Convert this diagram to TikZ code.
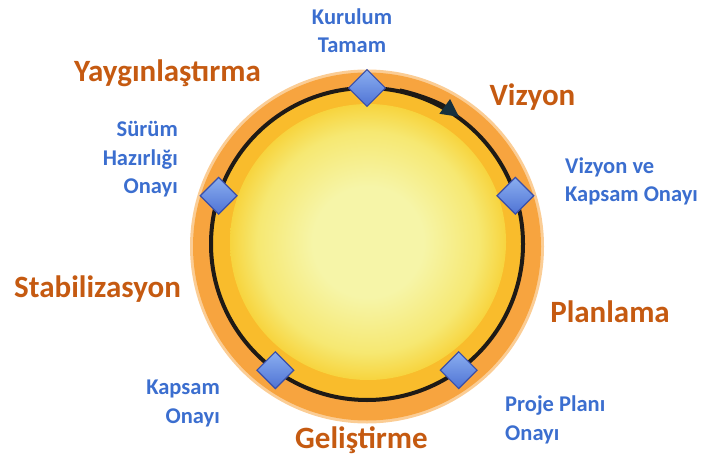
\documentclass[tikz,border=0pt]{standalone}
\usepackage{fontspec}
\setmainfont{Carlito}
\usetikzlibrary{arrows.meta}
\definecolor{orangetxt}{HTML}{C55A11}
\definecolor{bluetxt}{HTML}{3B6ECF}
\definecolor{ringorange}{HTML}{F7A43F}
\definecolor{ringgold}{HTML}{F9BC2C}
\definecolor{sunA}{HTML}{F6F5A8}
\definecolor{sunB}{HTML}{F6E872}
\definecolor{sunC}{HTML}{F7D43E}
\definecolor{diaA}{HTML}{8AAEF0}
\definecolor{diaB}{HTML}{4F73D4}
\definecolor{diaedge}{HTML}{3A4FA8}
\definecolor{ringblack}{HTML}{1E1A16}
\definecolor{tipcol}{HTML}{17303E}
\pgfdeclareradialshading{sunshade}{\pgfpoint{0bp}{0bp}}{color(0bp)=(sunA); color(10bp)=(sunA); color(20bp)=(sunB); color(25bp)=(sunC); color(50bp)=(sunC)}
\begin{document}
\begin{tikzpicture}[x=1pt,y=1pt,
  phase/.style={font=\fontsize{31}{36}\selectfont\bfseries, text=orangetxt, inner sep=0pt},
  gate/.style={font=\fontsize{22.5}{28.5}\selectfont\bfseries, text=bluetxt, inner sep=0pt},
  milestone/.style={shape=rectangle, draw=diaedge, line width=1.2pt, top color=diaA, bottom color=diaB, minimum size=26pt, inner sep=0pt, rotate=45},
  ringline/.style={ringblack, line width=4pt}
]
\useasboundingbox (0,0) rectangle (708,458);
\coordinate (c) at (367,214);
\coordinate (o) at (367,211.5);
\coordinate (s) at (368,216);
\fill[ringorange!55!white] (o) circle[radius=177pt];
\fill[ringorange] (o) circle[radius=174pt];
\fill[ringgold] (c) circle[radius=156pt];
\shade[shading=sunshade] (s) circle[radius=138pt];
\draw[ringline] (c) circle[radius=156pt];
\draw[ringline, -{Triangle[length=18pt,width=17pt,color=tipcol]}] ([shift={(78:157pt)}]c) arc[start angle=78, end angle=54, radius=157pt];
\node[milestone] (d1) at ([shift={(90:156pt)}]c) {};
\node[milestone] (d2) at ([shift={(18:156pt)}]c) {};
\node[milestone] (d3) at ([shift={(162:156pt)}]c) {};
\node[milestone] (d4) at ([shift={(234:156pt)}]c) {};
\node[milestone] (d5) at ([shift={(306:156pt)}]c) {};
\node[phase, anchor=base] (yay) at (167.5,376) {Yaygınlaştırma};
\node[phase, anchor=base] (viz) at (532.5,352) {Vizyon};
\node[phase, anchor=base] (pla) at (610,136) {Planlama};
\node[phase, anchor=base] (gel) at (361.5,10) {Geliştirme};
\node[phase, anchor=base] (sta) at (97.5,161) {Stabilizasyon};
\node[gate, align=center, anchor=base] (kur) at (352,405) {Kurulum\\Tamam};
\node[gate, align=right, anchor=base east] (sur) at (178,264) {Sürüm\\Hazırlığı\\Onayı};
\node[gate, align=left, anchor=base west] (vko) at (565,256) {Vizyon ve\\Kapsam Onayı};
\node[gate, align=right, anchor=base east] (kap) at (220,35) {Kapsam\\Onayı};
\node[gate, align=left, anchor=base west] (ppo) at (505,18) {Proje Planı\\Onayı};
\end{tikzpicture}
\end{document}
